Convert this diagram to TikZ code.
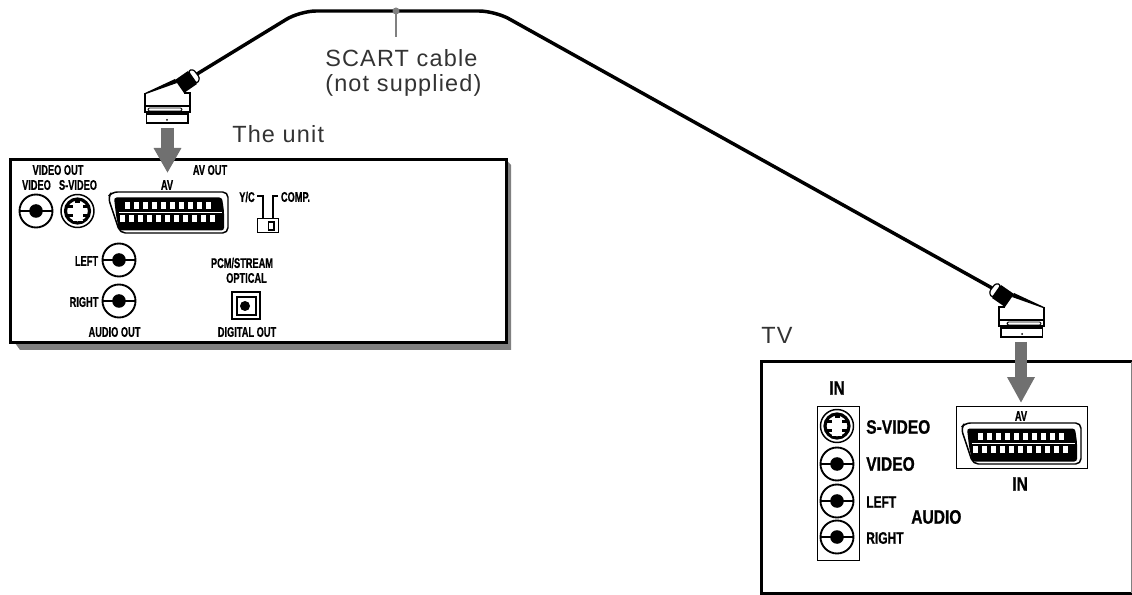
\documentclass[tikz,border=0pt]{standalone}
\usepackage{fontspec}
\usepackage{tikz}
\usetikzlibrary{arrows.meta}
\newfontfamily\plainfont[LetterSpace=5]{Liberation Sans}
\newfontfamily\condfont[FakeStretch=0.66,BoldFeatures={FakeBold=0.7}]{Liberation Sans}
\newfontfamily\midfont[FakeStretch=0.72,BoldFeatures={FakeBold=0.7}]{Liberation Sans}
\newfontfamily\widefont[FakeStretch=0.8,BoldFeatures={FakeBold=0.7}]{Liberation Sans}
\definecolor{arrowgray}{HTML}{707070}
\definecolor{shadowgray}{HTML}{808080}
\definecolor{textgray}{HTML}{333333}

\begin{document}
\begin{tikzpicture}[x=0.75pt,y=-0.75pt,
  caption/.style={font=\plainfont\fontsize{17.6pt}{24pt}\selectfont,text=textgray,anchor=base west,inner sep=0pt},
  lblsmall/.style={font=\condfont\bfseries\fontsize{10.5pt}{12pt}\selectfont,inner sep=0pt},
  lblmid/.style={font=\midfont\bfseries\fontsize{12.5pt}{14pt}\selectfont,inner sep=0pt,anchor=west},
  lblbig/.style={font=\widefont\bfseries\fontsize{14.6pt}{16pt}\selectfont,inner sep=0pt},
  blockarrow/.style={draw=arrowgray,line width=#1*0.75pt},
  panelbox/.style={draw=black,line width=0.75pt,fill=white},
  rcajack/.pic={
    \draw[fill=white,line width=1.4pt] (0,0) circle (16.5);
    \draw[line width=1.4pt] (-16.5,0) -- (16.5,0);
    \fill (0,0) circle (6.8);
  },
  svideojack/.pic={
    \draw[fill=white,line width=1.1pt] (0,0) circle (16.5);
    \draw[fill=white,line width=2.4pt] (0,0) circle (12);
    \fill (-2.5,-12) rectangle (2.5,-8);
    \fill (-10,-6) rectangle (-5,-3);
    \fill (5,-6) rectangle (10,-3);
    \fill (-10,3) rectangle (-5,6);
    \fill (5,3) rectangle (10,6);
    \draw[white,line width=1.2pt] (-5,9.5) -- (5,9.5);
  },
  scartjack/.pic={
    \draw[fill=white,line width=1.1pt,rounded corners=4pt] (-60,-15) -- (-56,-20) -- (60,-20) -- (60,21) -- (-48,21) -- cycle;
    \fill[rounded corners=2pt] (-54,-14.5) -- (54,-14.5) -- (56,-1) -- (56,18.5) -- (-49,18.5) -- (-52,3) -- cycle;
    \draw[white,line width=0.5pt] (-49,0.5) -- (54,0.5);
    \foreach \k in {0,...,9} \fill[white] (-43+\k*8.95,-10) rectangle +(5.4,7.2);
    \foreach \k in {0,...,10} \fill[white] (-48+\k*8.95,3) rectangle +(5.4,7.2);
  },
  scartplug/.pic={
    \fill[white] (-22,0) -- (8,-13) -- (17,0) -- (23,0) -- (23,20) -- (-22,20) -- cycle;
    \fill (-22,0) -- (8,-14) -- (10,-10) -- (-21,1) -- cycle;
    \draw[line width=1.3pt] (-22,0) -- (-22,20);
    \draw[line width=1.3pt] (17,0) -- (23,0) -- (23,20);
    \draw[line width=0.8pt] (-22,13) -- (23,13);
    \draw[line width=0.7pt,rounded corners=1pt] (-19,15) rectangle (15,18);
    \draw[line width=1.5pt] (-22,19.5) -- (23,19.5);
    \draw[line width=0.8pt] (-20.5,21) rectangle (21,30);
    \fill (0,27) circle (1);
    \draw[fill=white,line width=0.9pt,rounded corners=2pt] (21,-22) -- (26,-24) -- (33,-15) -- (30,-9) -- cycle;
    \fill (8,-13) -- (21,-22) -- (30,-9) -- (17,0) -- cycle;
  }]
  \useasboundingbox (0,0) rectangle (1132,595);

  \coordinate (cableleft) at (197,74);
  \coordinate (cableright) at (992,288);
  \coordinate (leadertop) at (396,11);
  \coordinate (leaderend) at (396,37);
  \draw[line width=2.6pt,rounded corners=12pt] (cableleft) -- (300,11) -- (495,11) -- (cableright);
  \draw[shadowgray,line width=1.5pt] (leadertop) -- (leaderend);
  \fill[shadowgray] (leadertop) circle (3.5);
  \node[caption] (cablelabel) at (325,67) {SCART cable};
  \node[caption] (supplylabel) at (325,92) {(not supplied)};
  \node[caption] (unitlabel) at (232,143) {The unit};
  \node[caption] (tvlabel) at (761,344) {TV};

  \fill[shadowgray] (15,343) -- (20,350) -- (511,350) -- (511,165) -- (506,160) -- cycle;
  \draw[fill=white,line width=2.25pt] (10,160) rectangle (506,343);

  \pic (plugleft) at (167,93) {scartplug};
  \coordinate (unitarrowtop) at (167.5,128);
  \coordinate (unitarrowtip) at (167.5,173);
  \draw[blockarrow=13,-{Triangle[width=19.5pt,length=18.75pt]}] (unitarrowtop) -- (unitarrowtip);

  \node[lblsmall] (videoout) at (58,170) {VIDEO OUT};
  \node[lblsmall] (videolbl) at (36.5,185) {VIDEO};
  \node[lblsmall] (svideolbl) at (78,185) {S-VIDEO};
  \node[lblsmall] (avlbl) at (167,185) {AV};
  \node[lblsmall] (avout) at (210,170) {AV OUT};
  \node[lblsmall] (yclbl) at (247,197) {Y/C};
  \node[lblsmall] (complbl) at (295.5,197) {COMP.};
  \node[lblsmall] (leftlbl) at (86.5,261) {LEFT};
  \node[lblsmall] (rightlbl) at (84,302) {RIGHT};
  \node[lblsmall] (audioout) at (114.5,332) {AUDIO OUT};
  \node[lblsmall] (pcmlbl) at (242,263) {PCM/STREAM};
  \node[lblsmall] (opticallbl) at (246.5,278) {OPTICAL};
  \node[lblsmall] (digitalout) at (247,332) {DIGITAL OUT};

  \pic at (36,211) {rcajack};
  \pic at (77.5,211) {svideojack};
  \pic at (168,212) {scartjack};
  \pic at (119,260) {rcajack};
  \pic at (119,301) {rcajack};

  \draw[line width=1.9pt] (257,196) -- (263,196) -- (263,219);
  \draw[line width=1.9pt] (278,196) -- (273,196) -- (273,219);
  \draw[panelbox] (257,219) rectangle (278,233);
  \draw[line width=1.3pt] (268.5,222) rectangle (274,230);

  \draw[line width=1.3pt] (232,292) rectangle (260,319);
  \draw[line width=1.3pt] (237,297) rectangle (256,315);
  \fill (245,306) circle (5);

  \draw[line width=2.25pt] (1132,361.5) -- (761,361.5) -- (761,593.5) -- (1132,593.5);
  \draw[shadowgray,line width=0.75pt] (1131,362) -- (1131,593);

  \pic[xscale=-1] (plugright) at (1022,307) {scartplug};
  \draw[panelbox] (956,406) rectangle (1087,468);
  \draw[panelbox] (817,406) rectangle (859,560);
  \coordinate (tvarrowtop) at (1021,342);
  \coordinate (tvarrowtip) at (1021,403);
  \draw[blockarrow=12,-{Triangle[width=19.5pt,length=19.5pt]}] (tvarrowtop) -- (tvarrowtip);

  \pic at (1021,443) {scartjack};
  \node[lblsmall] (tvavlbl) at (1021,416) {AV};
  \node[lblbig] (tvinright) at (1020,484) {IN};
  \node[lblbig] (tvinleft) at (837,388) {IN};
  \pic at (837,426) {svideojack};
  \pic at (837,464) {rcajack};
  \pic at (837,501) {rcajack};
  \pic at (837,537) {rcajack};
  \node[lblbig,anchor=west] (tvsvideo) at (866,427) {S-VIDEO};
  \node[lblbig,anchor=west] (tvvideo) at (866,464) {VIDEO};
  \node[lblmid] (tvleft) at (866,502) {LEFT};
  \node[lblmid] (tvright) at (866,538) {RIGHT};
  \node[lblbig,anchor=west] (tvaudio) at (911,517) {AUDIO};
\end{tikzpicture}
\end{document}
